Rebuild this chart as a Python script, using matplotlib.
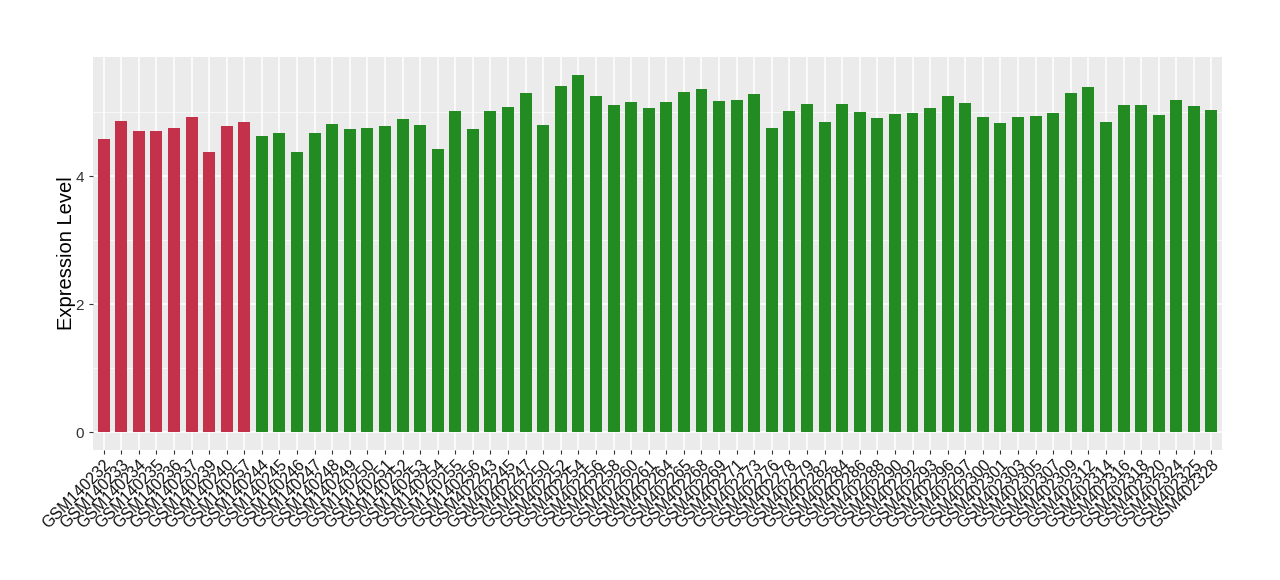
import matplotlib

matplotlib.use("Agg")
import matplotlib.pyplot as plt
import numpy as np
from matplotlib.ticker import MultipleLocator

plt.rcParams["font.family"] = ["Liberation Sans", "DejaVu Sans"]

# samples in plotting order; first group drawn red, second green
samples_a = ["GSM140232", "GSM140233", "GSM140234", "GSM140235", "GSM140236",
             "GSM140237", "GSM140239", "GSM140240", "GSM140257"]
values_a = [4.58, 4.86, 4.70, 4.70, 4.75, 4.92, 4.38, 4.78, 4.84]

samples_b = ["GSM140244", "GSM140245", "GSM140246", "GSM140247", "GSM140248",
             "GSM140249", "GSM140250", "GSM140251", "GSM140252", "GSM140253",
             "GSM140254", "GSM140255", "GSM140256", "GSM402243", "GSM402245",
             "GSM402247", "GSM402250", "GSM402252", "GSM402254", "GSM402256",
             "GSM402258", "GSM402260", "GSM402261", "GSM402264", "GSM402265",
             "GSM402268", "GSM402269", "GSM402271", "GSM402273", "GSM402276",
             "GSM402278", "GSM402279", "GSM402282", "GSM402284", "GSM402286",
             "GSM402288", "GSM402290", "GSM402292", "GSM402293", "GSM402296",
             "GSM402297", "GSM402300", "GSM402301", "GSM402303", "GSM402305",
             "GSM402307", "GSM402309", "GSM402312", "GSM402314", "GSM402316",
             "GSM402318", "GSM402320", "GSM402324", "GSM402325", "GSM402328"]
values_b = [4.63, 4.67, 4.38, 4.67, 4.81, 4.74, 4.75, 4.78, 4.89, 4.80,
            4.42, 5.02, 4.74, 5.02, 5.08, 5.30, 4.80, 5.40, 5.58, 5.25,
            5.11, 5.16, 5.06, 5.16, 5.31, 5.36, 5.17, 5.19, 5.28, 4.75,
            5.02, 5.12, 4.84, 5.12, 5.00, 4.91, 4.97, 4.98, 5.06, 5.25,
            5.14, 4.92, 4.83, 4.92, 4.94, 4.98, 5.30, 5.39, 4.84, 5.11,
            5.11, 4.95, 5.19, 5.09, 5.03]

RED = "#C3314A"
GREEN = "#228B22"

labels = samples_a + samples_b
values = values_a + values_b
colors = [RED] * len(samples_a) + [GREEN] * len(samples_b)
x = np.arange(len(labels))

fig = plt.figure(figsize=(12.8, 5.8), dpi=100)
ax = fig.add_axes([0.0727, 0.2241, 0.8820, 0.6776])
ax.set_facecolor("#EBEBEB")

ax.bar(x, values, width=0.68, color=colors, zorder=3)

ax.set_xlim(-0.6, len(labels) - 0.4)
ax.set_ylim(-0.279, 5.86)
ax.yaxis.set_major_locator(MultipleLocator(2))
ax.yaxis.set_minor_locator(MultipleLocator(1))
ax.set_xticks(x)
ax.set_xticklabels(labels, rotation=45, ha="right", va="top",
                   rotation_mode="anchor", fontsize=11.5, color="#111111")

ax.grid(True, which="major", color="white", linewidth=1.1, zorder=0)
ax.grid(True, which="minor", axis="y", color="white", linewidth=0.5, zorder=0)
for s in ax.spines.values():
    s.set_visible(False)
ax.tick_params(axis="both", which="major", length=3, color="#333333")
ax.tick_params(axis="y", which="major", labelsize=11, labelcolor="#333333")
ax.tick_params(axis="y", which="minor", length=0)
ax.tick_params(axis="x", pad=2)

ax.set_ylabel("Expression Level", fontsize=14.5, labelpad=0)

fig.savefig("out.png", dpi=100)
